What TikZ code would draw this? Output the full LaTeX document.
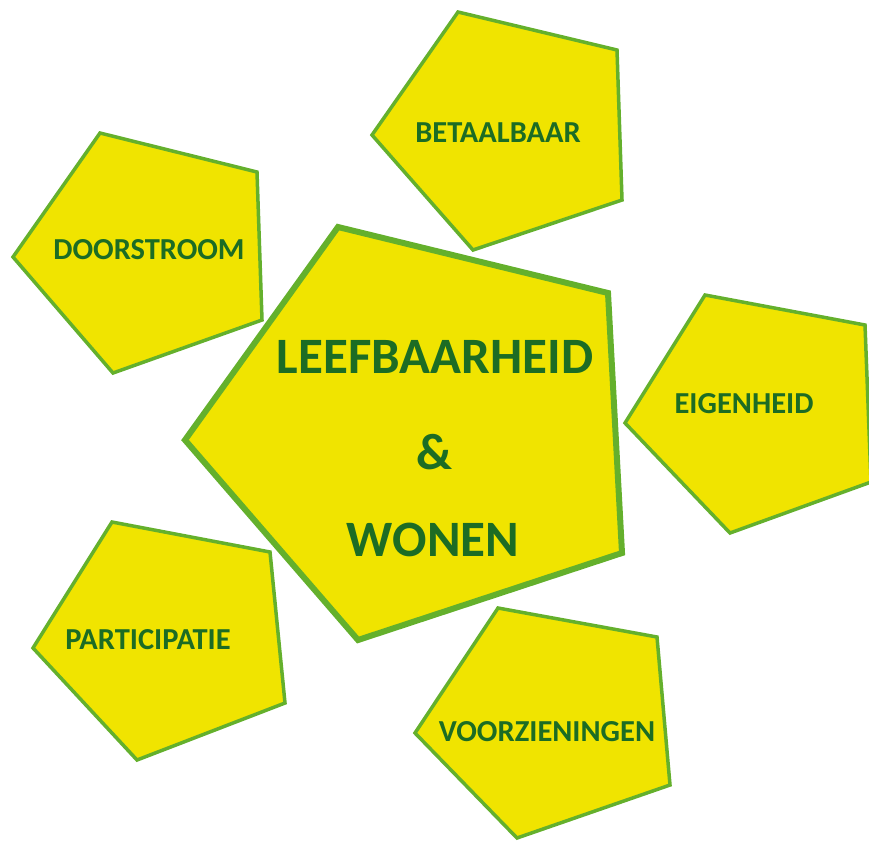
\documentclass[tikz,border=0pt]{standalone}
\usepackage{fontspec}
\setmainfont{Carlito}
\definecolor{pfill}{RGB}{240,228,0}
\definecolor{pline}{RGB}{100,176,44}
\definecolor{ptext}{RGB}{28,108,36}
\begin{document}
\begin{tikzpicture}[x=1pt,y=-1pt,
  small/.style={fill=pfill,draw=pline,line width=3.5pt,line join=miter},
  big/.style={fill=pfill,draw=pline,line width=6pt,line join=miter},
  lbl/.style={text=ptext,font=\bfseries\fontsize{30.5}{34}\selectfont,inner sep=0pt},
  biglbl/.style={text=ptext,font=\bfseries\fontsize{51}{56}\selectfont,inner sep=0pt}]
\useasboundingbox (0,0) rectangle (869,844);
\clip (0,0) rectangle (869,844);
% pentagons
\draw[small] (100,133) -- (257,172) -- (262,320) -- (113,373) -- (13,257) -- cycle;
\draw[small] (458,12) -- (617,50) -- (622,200) -- (473,250) -- (372,135) -- cycle;
\draw[small] (705,295) -- (865,325) -- (871,482) -- (730,533) -- (625,423) -- cycle;
\draw[small] (112,522) -- (270,552) -- (285,703) -- (137,760) -- (33,648) -- cycle;
\draw[small] (498,608) -- (657,637) -- (670,785) -- (517,838) -- (415,733) -- cycle;
\draw[big] (338,227) -- (608,293) -- (622,553) -- (358,640) -- (185,440) -- cycle;
% labels
\node[lbl] (doorstroom) at (149,250) {DOORSTROOM};
\node[lbl] (betaalbaar) at (498,133) {BETAALBAAR};
\node[lbl] (eigenheid) at (744,404) {EIGENHEID};
\node[lbl] (participatie) at (148,640) {PARTICIPATIE};
\node[lbl] (voorzieningen) at (547,732) {VOORZIENINGEN};
\node[biglbl] (leef) at (435,357) {LEEFBAARHEID};
\node[biglbl] (amp) at (434,452) {\&};
\node[biglbl] (wonen) at (433,540) {WONEN};
\end{tikzpicture}
\end{document}
